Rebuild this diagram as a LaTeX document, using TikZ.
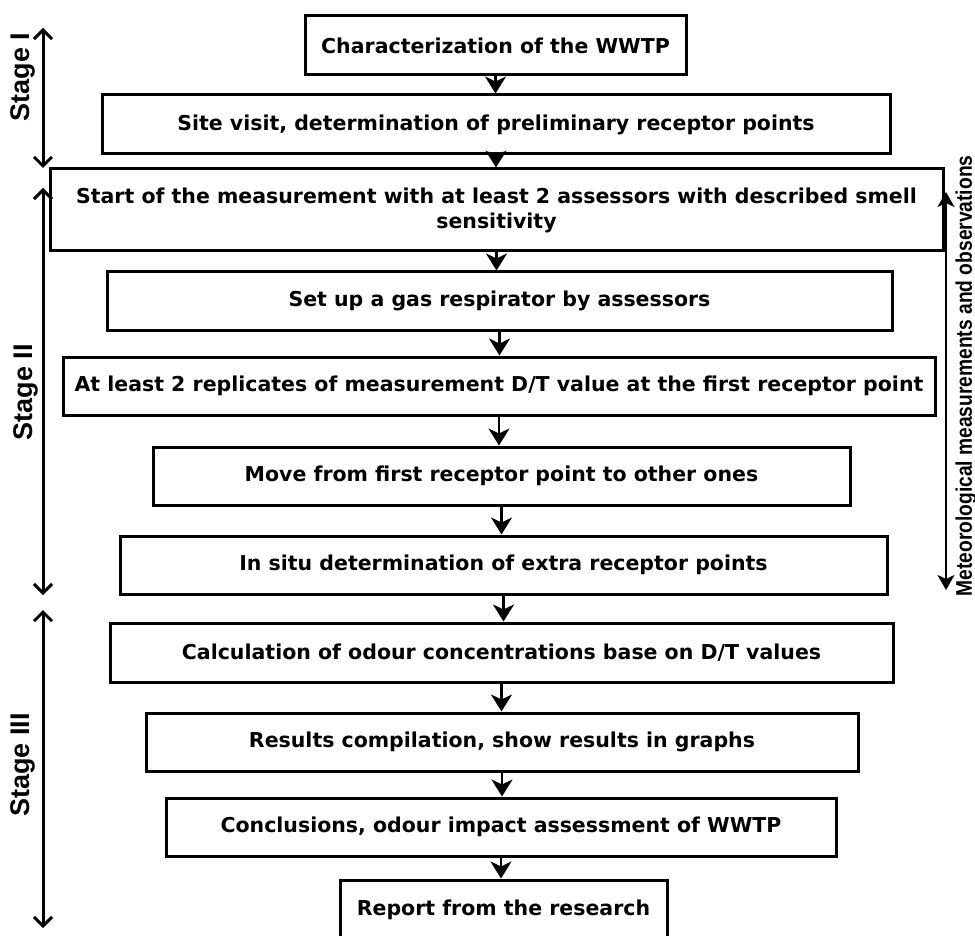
\documentclass[tikz,border=0pt]{standalone}
\usepackage{fontspec}
\usetikzlibrary{arrows.meta}
\newfontfamily\boxfont{DejaVu Sans}
\newfontfamily\stagefont{Liberation Sans}
\newfontfamily\metfont[FakeStretch=0.85]{Liberation Sans}

\begin{document}
\begin{tikzpicture}[x=1pt,y=-1pt,
  stepbox/.style={draw,line width=3pt,inner sep=0pt,align=center,
    font=\boxfont\bfseries\fontsize{20.5}{25}\selectfont},
  flow/.style={line width=2.5pt,-{Stealth[length=17pt,width=21pt,inset=5pt]}},
  stagespan/.style={line width=3pt,
    {Straight Barb[length=9pt,width=18pt]}-{Straight Barb[length=9pt,width=18pt]}},
  metspan/.style={line width=2pt,
    {Stealth[length=15pt,width=17pt,inset=4pt]}-{Stealth[length=15pt,width=17pt,inset=4pt]}},
  stagelabel/.style={rotate=90,inner sep=0pt,
    font=\stagefont\bfseries\fontsize{27}{30}\selectfont}]
  \useasboundingbox (0,0) rectangle (975,936);

  % Stage I
  \node[stepbox,minimum width=381pt,minimum height=59pt] (char) at (495.5,45.5)
    {Characterization of the WWTP};
  \node[stepbox,minimum width=788pt,minimum height=59pt] (site) at (496,124.5)
    {Site visit, determination of preliminary receptor points};

  % Stage II
  \node[stepbox,minimum width=893pt,minimum height=82pt] (start) at (496.5,210)
    {Start of the measurement with at least 2 assessors with described smell\\sensitivity};
  \node[stepbox,minimum width=785pt,minimum height=58pt] (setup) at (499.5,301)
    {Set up a gas respirator by assessors};
  \node[stepbox,minimum width=872pt,minimum height=58pt] (repl) at (499,386)
    {At least 2 replicates of measurement D/T value at the first receptor point};
  \node[stepbox,minimum width=697pt,minimum height=58pt] (move) at (501.5,476)
    {Move from first receptor point to other ones};
  \node[stepbox,minimum width=767pt,minimum height=58pt] (insitu) at (503.5,565)
    {In situ determination of extra receptor points};

  % Stage III
  \node[stepbox,minimum width=783pt,minimum height=59pt] (calc) at (501.5,652.5)
    {Calculation of odour concentrations base on D/T values};
  \node[stepbox,minimum width=712pt,minimum height=58pt] (results) at (502,742)
    {Results compilation, show results in graphs};
  \node[stepbox,minimum width=670pt,minimum height=58pt] (concl) at (501,827)
    {Conclusions, odour impact assessment of WWTP};
  \node[stepbox,minimum width=327pt,minimum height=60pt] (report) at (503.5,910)
    {Report from the research};

  \draw[flow] (char) -- (char |- site.north);
  \draw[flow] (site) -- (site |- start.north);
  \draw[flow] (start) -- (start |- setup.north);
  \draw[flow] (setup) -- (setup |- repl.north);
  \draw[flow] (repl) -- (repl |- move.north);
  \draw[flow] (move) -- (move |- insitu.north);
  \draw[flow] (insitu) -- (insitu |- calc.north);
  \draw[flow] (calc) -- (calc |- results.north);
  \draw[flow] (results) -- (results |- concl.north);
  \draw[flow] (concl) -- (concl |- report.north);

  % stages on the left
  \coordinate (oneTop) at (43,28);
  \coordinate (oneBot) at (43,168);
  \coordinate (twoTop) at (43,188);
  \coordinate (twoBot) at (43,595);
  \coordinate (threeTop) at (43,610);
  \coordinate (threeBot) at (43,928);
  \draw[stagespan] (oneTop) -- (oneBot);
  \draw[stagespan] (twoTop) -- (twoBot);
  \draw[stagespan] (threeTop) -- (threeBot);
  \node[stagelabel] (stageOne) at (23,77) {Stage I};
  \node[stagelabel] (stageTwo) at (26,392) {Stage II};
  \node[stagelabel] (stageThree) at (23,765) {Stage III};

  % weather along stage II
  \coordinate (metTop) at (946,192);
  \coordinate (metBot) at (946,590);
  \draw[metspan] (metTop) -- (metBot);
  \node[rotate=90,inner sep=0pt,font=\metfont\bfseries\fontsize{22.6}{24}\selectfont]
    (met) at (966,376) {Meteorological measurements and observations};
\end{tikzpicture}
\end{document}
